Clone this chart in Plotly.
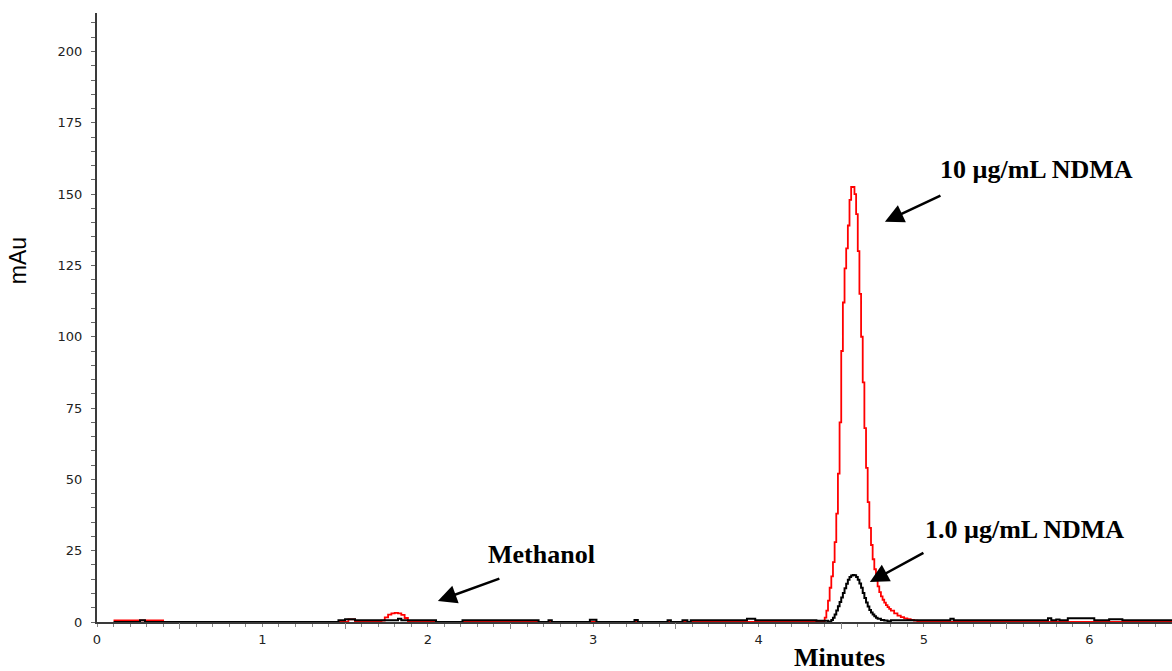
import plotly.graph_objects as go

# ---- chromatogram data (retention time in minutes, absorbance in mAu) ----
# 10 µg/mL NDMA injection (red trace)
red_time = [0.10, 0.40,
            1.52, 1.56,
            1.72, 1.74, 1.76, 1.78, 1.80, 1.82, 1.84, 1.86, 1.88, 1.90,
            4.38, 4.39, 4.40, 4.41, 4.42, 4.43, 4.44, 4.45, 4.46, 4.47,
            4.48, 4.49, 4.50, 4.51, 4.52, 4.53, 4.54, 4.55, 4.56, 4.57,
            4.58, 4.59, 4.60, 4.61, 4.62, 4.63, 4.64, 4.65, 4.66, 4.67,
            4.68, 4.69, 4.70, 4.71, 4.72, 4.73, 4.74, 4.75, 4.76, 4.77,
            4.78, 4.79, 4.80, 4.82, 4.84, 4.86, 4.88, 4.90, 4.92, 4.94,
            4.96, 4.98, 5.00, 6.50]
red_mau = [0.6, 0.0,
           0.9, 0.0,
           0.5, 1.6, 2.6, 3.0, 3.2, 3.0, 2.5, 1.4, 0.3, 0.0,
           0.0, 0.3, 1.5, 4.0, 7.5, 12.0, 16.0, 21.0, 28.0, 38.0,
           52.0, 70.0, 95.0, 112.0, 124.0, 131.0, 139.0, 148.0, 152.5, 152.5,
           150.0, 143.0, 130.0, 115.0, 100.0, 84.0, 68.0, 54.0, 42.0, 33.0,
           27.0, 22.0, 18.5, 15.0, 12.5, 10.5, 9.0, 7.8, 6.8, 5.9,
           5.2, 4.6, 4.0, 3.0, 2.2, 1.7, 1.3, 1.0, 0.7, 0.5,
           0.3, 0.1, 0.0, 0.0]

# 1.0 µg/mL NDMA injection (black trace)
black_time = [0.10, 0.26, 0.29,
              1.46, 1.50, 1.56, 1.82, 1.84, 2.05, 2.21, 2.67, 2.73, 2.75,
              2.98, 3.02, 3.25, 3.27, 3.45, 3.47, 3.54, 3.57, 3.59, 3.93,
              3.98, 4.35,
              4.42, 4.43, 4.44, 4.45, 4.46, 4.47, 4.48, 4.49, 4.50, 4.51,
              4.52, 4.53, 4.54, 4.55, 4.56, 4.57, 4.58, 4.59, 4.60, 4.61,
              4.62, 4.63, 4.64, 4.65, 4.66, 4.67, 4.68, 4.69, 4.70, 4.71,
              4.72, 4.74, 4.76, 4.78, 4.80,
              5.16, 5.18, 5.75, 5.77, 5.80, 5.82, 5.87, 6.03, 6.12, 6.20,
              6.50]
black_mau = [0.0, 0.6, 0.0,
             0.6, 1.0, 0.6, 1.1, 0.6, 0.0, 0.6, 0.0, 0.6, 0.0,
             0.8, 0.0, 0.7, 0.0, 0.6, 0.0, 0.6, 0.0, 0.6, 1.1,
             0.6, 0.4,
             0.0, 0.2, 0.7, 1.5, 2.6, 4.0, 5.5, 7.0, 8.6, 10.2,
             11.8, 13.4, 14.8, 15.8, 16.3, 16.5, 16.4, 15.8, 14.8, 13.5,
             12.0, 10.2, 8.4, 6.8, 5.4, 4.2, 3.3, 2.6, 2.0, 1.5,
             1.1, 0.7, 0.5, 0.3, 0.6,
             1.1, 0.6, 1.3, 0.6, 0.9, 0.6, 1.3, 0.6, 1.0, 0.6,
             0.6]

# axis ticks
x_label_vals = [0, 1, 2, 3, 4, 5, 6]
x_label_text = ["0", "1", "2", "3", "4", "5", "6"]
x_half_vals = [0.5, 1.5, 2.5, 3.5, 4.5, 5.5, 6.5]
y_label_vals = [0, 25, 50, 75, 100, 125, 150, 175, 200]
y_label_text = ["0", "25", "50", "75", "100", "125", "150", "175", "200"]

AXIS_COLOR = "#3a3a3a"
TICK_FONT = dict(family="DejaVu Sans", size=13, color="#222222")
SERIF_BOLD = dict(family="Liberation Serif", size=26, color="#000000")

fig = go.Figure()

fig.add_trace(go.Scatter(
    x=red_time, y=red_mau, mode="lines",
    line=dict(color="#ff0000", width=1.8, shape="hv"),
    xaxis="x", yaxis="y", showlegend=False, hoverinfo="skip",
))
fig.add_trace(go.Scatter(
    x=black_time, y=black_mau, mode="lines",
    line=dict(color="#000000", width=2, shape="hv"),
    xaxis="x2", yaxis="y", showlegend=False, hoverinfo="skip",
))

x_range = [0, 6.5]
y_range = [0, 213.5]

fig.update_layout(
    width=1172, height=671,
    margin=dict(l=97, r=0, t=13, b=49),
    paper_bgcolor="white", plot_bgcolor="white",
    xaxis=dict(
        range=x_range, showgrid=False, zeroline=False,
        showline=True, linecolor=AXIS_COLOR, linewidth=2,
        tickmode="array", tickvals=x_label_vals, ticktext=x_label_text,
        ticks="", tickfont=TICK_FONT, ticklabelstandoff=4,
        minor=dict(dtick=0.1, tick0=0, ticks="outside", ticklen=3,
                   tickcolor="#888888", tickwidth=1, showgrid=False),
    ),
    xaxis2=dict(
        range=x_range, matches="x", overlaying="x", anchor="y",
        showgrid=False, zeroline=False, showline=False,
        tickmode="array", tickvals=x_half_vals, ticks="outside",
        ticklen=6, tickcolor="#888888", tickwidth=1, showticklabels=False,
    ),
    yaxis=dict(
        range=y_range, showgrid=False, zeroline=False,
        showline=True, linecolor=AXIS_COLOR, linewidth=2,
        tickmode="array", tickvals=y_label_vals, ticktext=y_label_text,
        ticks="", tickfont=TICK_FONT, ticklabelstandoff=10,
        minor=dict(dtick=5, tick0=0, ticks="outside", ticklen=4,
                   tickcolor="#666666", tickwidth=1, showgrid=False),
    ),
)

# axis titles
fig.add_annotation(
    text="mAu", xref="paper", yref="paper", x=-0.0735, y=0.594,
    xanchor="center", yanchor="middle",
    textangle=-90, showarrow=False,
    font=dict(family="Liberation Sans", size=23, color="#000000"),
)
fig.add_annotation(
    text="<b>Minutes</b>", xref="paper", yref="paper", x=0.691, y=-0.0575,
    xanchor="center", yanchor="middle",
    showarrow=False, font=SERIF_BOLD,
)

# peak labels with arrows
labels = [
    ("<b>10 µg/mL NDMA</b>", 5.68, 158.5, 4.764, 140.3, 5.109, 149.7),
    ("<b>1.0 µg/mL NDMA</b>", 5.61, 32.3, 4.673, 14.0, 5.006, 24.5),
    ("<b>Methanol</b>", 2.69, 23.5, 2.061, 7.4, 2.442, 15.4),
]
for text, tx, ty, hx, hy, sx, sy in labels:
    fig.add_annotation(text=text, x=tx, y=ty, xref="x", yref="y",
                       xanchor="center", yanchor="middle",
                       showarrow=False, font=SERIF_BOLD)
    fig.add_annotation(
        text="", x=hx, y=hy, xref="x", yref="y",
        ax=sx, ay=sy, axref="x", ayref="y",
        showarrow=True, arrowhead=2, arrowsize=1.5, arrowwidth=2.5,
        arrowcolor="#000000",
    )

fig.write_html("out.html")
